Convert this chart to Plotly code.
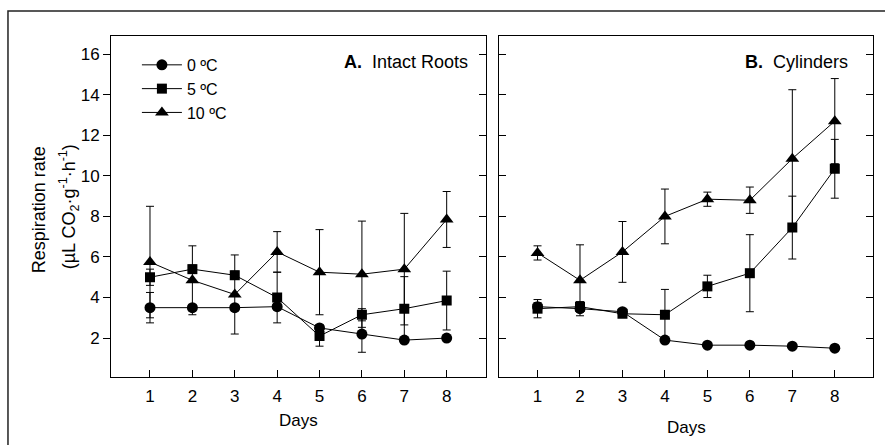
import plotly.graph_objects as go

days = [1, 2, 3, 4, 5, 6, 7, 8]

# Panel A: Intact Roots
a_0c = [3.5, 3.5, 3.5, 3.55, 2.5, 2.2, 1.9, 2.0]
a_0c_err = [0.75, 0.15, 0.15, 0.15, 0.15, 0.9, 0.1, 0.1]
a_5c = [5.0, 5.4, 5.1, 4.0, 2.1, 3.15, 3.45, 3.85]
a_5c_err = [0.4, 0.2, 0.2, 1.25, 0.5, 0.3, 1.58, 1.45]
a_10c = [5.75, 4.85, 4.15, 6.25, 5.25, 5.15, 5.4, 7.85]
a_10c_err = [2.75, 1.7, 1.95, 1.0, 2.1, 2.62, 2.75, 1.38]

# Panel B: Cylinders
b_0c = [3.55, 3.45, 3.3, 1.9, 1.65, 1.65, 1.6, 1.5]
b_0c_err = [0.2, 0.15, 0.1, 0.1, 0.05, 0.05, 0.05, 0.05]
b_5c = [3.45, 3.55, 3.2, 3.15, 4.55, 5.2, 7.45, 10.35]
b_5c_err = [0.45, 0.25, 0.1, 1.25, 0.55, 1.9, 1.55, 1.45]
b_10c = [6.2, 4.85, 6.25, 8.0, 8.85, 8.8, 10.85, 12.7]
b_10c_err = [0.35, 1.75, 1.5, 1.35, 0.35, 0.65, 3.4, 2.1]

series_names = ["0 ºC", "5 ºC", "10 ºC"]
y_ticks = [2, 4, 6, 8, 10, 12, 14, 16]

FONT = "Liberation Sans, Arial, sans-serif"
symbols = ["circle", "square", "triangle-up"]
msizes = [11, 10, 12]

fig = go.Figure()

panels = [
    ("x", "y", [a_0c, a_5c, a_10c], [a_0c_err, a_5c_err, a_10c_err], True),
    ("x2", "y2", [b_0c, b_5c, b_10c], [b_0c_err, b_5c_err, b_10c_err], False),
]
for xa, ya, vals, errs, show in panels:
    for i in range(3):
        fig.add_trace(go.Scatter(
            x=days, y=vals[i], xaxis=xa, yaxis=ya,
            mode="lines+markers", name=series_names[i], showlegend=show,
            line=dict(color="black", width=1),
            marker=dict(symbol=symbols[i], size=msizes[i], color="black"),
            error_y=dict(type="data", array=errs[i], visible=True,
                         color="black", thickness=1, width=4),
        ))

# invisible trace for mirrored inside ticks on panel A's right edge
fig.add_trace(go.Scatter(x=[None], y=[None], xaxis="x", yaxis="y3",
                         showlegend=False, hoverinfo="skip"))

yrange = [0.08, 16.9]
axis_common = dict(showline=True, linecolor="black", linewidth=1,
                   showgrid=False, zeroline=False, ticklen=7,
                   tickcolor="black", tickwidth=1,
                   tickfont=dict(family=FONT, size=17, color="black"))

fig.update_layout(
    width=885, height=445,
    margin=dict(l=111, r=12, t=36, b=68),
    paper_bgcolor="white", plot_bgcolor="white",
    font=dict(family=FONT, size=17, color="black"),
    xaxis=dict(domain=[0, 0.4917], range=[0.08, 8.92], tickvals=days,
               ticks="inside", mirror=True, anchor="y",
               ticklabelstandoff=4, **axis_common),
    xaxis2=dict(domain=[0.5096, 1], range=[0.1, 8.9], tickvals=days,
                ticks="inside", mirror=True, anchor="y2",
                ticklabelstandoff=4, **axis_common),
    yaxis=dict(domain=[0, 1], range=yrange, tickvals=y_ticks,
               ticks="outside", mirror=True, anchor="x", **axis_common),
    yaxis3=dict(range=yrange, tickvals=y_ticks, overlaying="y", side="right",
                anchor="x", ticks="inside", showticklabels=False,
                showline=False, showgrid=False, zeroline=False, ticklen=7,
                tickcolor="black"),
    yaxis2=dict(domain=[0, 1], range=yrange, tickvals=y_ticks,
                ticks="inside", mirror="ticks", anchor="x2",
                showticklabels=False, **axis_common),
    legend=dict(x=0.034, y=0.965, xanchor="left", yanchor="top",
                bgcolor="rgba(0,0,0,0)", borderwidth=0, itemwidth=40,
                font=dict(family=FONT, size=16, color="black"),
                tracegroupgap=0),
    showlegend=True,
)

# outer frame
fig.add_shape(type="rect", xref="paper", yref="paper",
              x0=-0.1352, x1=1.2, y0=-0.5, y1=1.0733,
              line=dict(color="#222", width=1.5), layer="below")

ann_font = dict(family=FONT, size=18, color="black")
fig.add_annotation(x=8.55, y=15.6, xref="x", yref="y", xanchor="right",
                   yanchor="middle",
                   text="<b>A.</b>  Intact Roots", showarrow=False, font=ann_font)
fig.add_annotation(x=8.37, y=15.6, xref="x2", yref="y2", xanchor="right",
                   yanchor="middle",
                   text="<b>B.</b>  Cylinders", showarrow=False, font=ann_font)

fig.add_annotation(x=0.2459, y=(377 - 421) / 341, xref="paper", yref="paper",
                   xanchor="center", yanchor="middle",
                   text="Days", showarrow=False,
                   font=dict(family=FONT, size=17, color="black"))
fig.add_annotation(x=0.7548, y=(377 - 427) / 341, xref="paper", yref="paper",
                   xanchor="center", yanchor="middle",
                   text="Days", showarrow=False,
                   font=dict(family=FONT, size=17, color="black"))

fig.add_annotation(x=(39.3 - 111) / 762, y=(377 - 210) / 341, xref="paper",
                   yref="paper", text="Respiration rate", textangle=-90,
                   xanchor="center", yanchor="middle",
                   showarrow=False, font=dict(family=FONT, size=18, color="black"))
fig.add_annotation(x=(68.3 - 111) / 762, y=(377 - 207) / 341, xref="paper",
                   yref="paper",
                   text="(µL CO<sub>2</sub>·g<sup>-1</sup>·h<sup>-1</sup>)",
                   textangle=-90, xanchor="center", yanchor="middle",
                   showarrow=False,
                   font=dict(family=FONT, size=18, color="black"))

fig.write_html("out.html",
               config={"displayModeBar": False},
               post_script="document.body.style.margin='0';")
